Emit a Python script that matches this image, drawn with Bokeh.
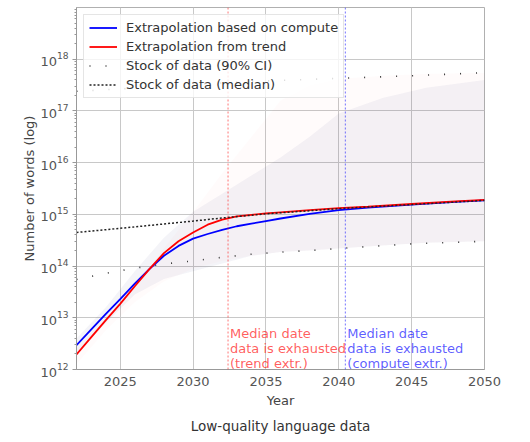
from bokeh.plotting import figure
from bokeh.models import (Range1d, FixedTicker, LogTickFormatter, Legend, LegendItem,
                          Span, Label, Title)
from bokeh.embed import file_html
from bokeh.resources import INLINE

# ---------------- data (log10 of number of words) ----------------
years = [2022, 2023, 2024, 2025, 2026, 2027, 2028, 2029, 2030, 2031, 2032,
         2033, 2034, 2035, 2036, 2038, 2040, 2042, 2045, 2048, 2050]
compute_log = [12.47, 12.77, 13.07, 13.36, 13.66, 13.94, 14.20, 14.39, 14.53, 14.62, 14.70,
               14.77, 14.82, 14.87, 14.92, 15.01, 15.08, 15.13, 15.19, 15.24, 15.27]
trend_log = [12.29, 12.62, 12.95, 13.27, 13.61, 13.94, 14.25, 14.48, 14.65, 14.80, 14.90,
             14.96, 14.99, 15.02, 15.04, 15.08, 15.12, 15.15, 15.20, 15.25, 15.28]

stock_years = [2022, 2025, 2030, 2032, 2035, 2040, 2045, 2050]
stock_median_log = [14.65, 14.73, 14.87, 14.93, 15.01, 15.11, 15.19, 15.27]

ci_years = [2022, 2024, 2026, 2028, 2030, 2032, 2034, 2036, 2038, 2040, 2045, 2050]
stock_low_log = [13.74, 13.86, 13.96, 14.04, 14.10, 14.17, 14.23, 14.27, 14.30, 14.34, 14.43, 14.48]
stock_high_log = [17.38, 17.41, 17.44, 17.47, 17.52, 17.54, 17.57, 17.59, 17.61, 17.63, 17.68, 17.74]

band_years = [2022, 2024, 2026, 2028, 2030, 2032, 2034, 2036, 2038, 2040, 2043, 2046, 2050]
compute_band_low = [12.3, 12.9, 13.45, 13.75, 13.9, 14.05, 14.2, 14.27, 14.3, 14.34, 14.4, 14.45, 14.48]
compute_band_high = [12.6, 13.2, 13.9, 14.55, 15.05, 15.4, 15.75, 16.1, 16.5, 16.95, 17.25, 17.45, 17.6]
trend_band_low = [12.1, 12.75, 13.3, 13.7, 13.95, 14.1, 14.2, 14.27, 14.3, 14.34, 14.4, 14.45, 14.48]
trend_band_high = [12.4, 13.0, 13.6, 14.35, 15.05, 15.8, 16.5, 17.2, 17.5, 17.62, 17.68, 17.72, 17.74]

exhaust_trend = 2032.4
exhaust_compute = 2040.45

x_ticks = [2025, 2030, 2035, 2040, 2045, 2050]
y_tick_exps = [12, 13, 14, 15, 16, 17, 18]


def pw(vals):
    return [10 ** v for v in vals]


FONT = "DejaVu Sans"

p = figure(frame_width=408, frame_height=362, y_axis_type="log",
           x_range=Range1d(2022, 2050), y_range=Range1d(1e12, 1e19),
           output_backend="svg", toolbar_location=None,
           min_border_left=76, min_border_right=20, min_border_top=7, min_border_bottom=0)

p.outline_line_color = "#b0b0b0"
p.background_fill_color = "white"

# bands
p.varea(x=band_years, y1=pw(trend_band_low), y2=pw(trend_band_high),
        fill_color="#ff0000", fill_alpha=0.015)
p.varea(x=band_years, y1=pw(compute_band_low), y2=pw(compute_band_high),
        fill_color="#303075", fill_alpha=0.05)

# exhaustion date lines
p.add_layout(Span(location=exhaust_trend, dimension="height", line_color="#ff0000",
                  line_alpha=0.55, line_dash="2 2", line_width=1))
p.add_layout(Span(location=exhaust_compute, dimension="height", line_color="#0000ff",
                  line_alpha=0.55, line_dash="2 2", line_width=1))

r_ci = p.multi_line(xs=[ci_years, ci_years], ys=[pw(stock_low_log), pw(stock_high_log)],
                    line_color="#333333", line_width=1.6, line_dash="1 15")
r_med = p.line(stock_years, pw(stock_median_log), line_color="#222222", line_width=1.5,
               line_dash="2 2")
r_comp = p.line(years, pw(compute_log), line_color="#0000ff", line_width=1.8)
r_trend = p.line(years, pw(trend_log), line_color="#ff0000", line_width=1.8)
# keep median dotted on top
p.renderers.remove(r_med)
p.renderers.append(r_med)

p.add_layout(Label(x=exhaust_trend, y=1e12, x_offset=2, y_offset=-1,
                   text="Median date\ndata is exhausted\n(trend extr.)",
                   text_color="#ff0000", text_alpha=0.65, text_font=FONT,
                   text_font_size="13px", text_baseline="bottom", text_line_height=1.0))
p.add_layout(Label(x=exhaust_compute, y=1e12, x_offset=2, y_offset=-1,
                   text="Median date\ndata is exhausted\n(compute extr.)",
                   text_color="#0000ff", text_alpha=0.65, text_font=FONT,
                   text_font_size="13px", text_baseline="bottom", text_line_height=1.0))

legend = Legend(items=[
    LegendItem(label="Extrapolation based on compute", renderers=[r_comp]),
    LegendItem(label="Extrapolation from trend", renderers=[r_trend]),
    LegendItem(label="Stock of data (90% CI)", renderers=[r_ci]),
    LegendItem(label="Stock of data (median)", renderers=[r_med]),
], location="top_left")
legend.label_text_font = FONT
legend.label_text_font_size = "13px"
legend.label_text_color = "#333333"
legend.label_height = 15
legend.glyph_height = 15
legend.glyph_width = 28
legend.spacing = 4
legend.padding = 5
legend.margin = 7
legend.label_standoff = 9
legend.border_line_color = "#cccccc"
legend.background_fill_alpha = 0.8
p.add_layout(legend)

# grid
p.xgrid.grid_line_color = "#c8c8c8"
p.ygrid.grid_line_color = "#c8c8c8"
p.xgrid.grid_line_width = 1
p.ygrid.grid_line_width = 1

# axes
p.xaxis.ticker = FixedTicker(ticks=x_ticks)
p.yaxis.ticker = FixedTicker(ticks=[10 ** e for e in y_tick_exps],
                             minor_ticks=[m * 10 ** e for e in range(12, 19) for m in range(2, 10)])
p.yaxis.formatter = LogTickFormatter()
for ax in (p.xaxis, p.yaxis):
    ax.axis_line_color = "#999999"
    ax.major_tick_line_color = "#999999"
    ax.minor_tick_line_color = "#999999"
    ax.major_label_text_font = FONT
    ax.major_label_text_font_size = "13px"
    ax.major_label_text_color = "#555555"
    ax.axis_label_text_font = FONT
    ax.axis_label_text_font_size = "13px"
    ax.axis_label_text_color = "#444444"
    ax.axis_label_text_font_style = "normal"
p.xaxis.major_tick_out = 0
p.xaxis.major_tick_in = 0
p.xaxis.minor_tick_out = 0
p.xaxis.minor_tick_in = 0
p.xaxis.major_label_standoff = 7
p.xaxis.axis_label = "Year"
p.xaxis.axis_label_standoff = 4
p.yaxis.major_tick_out = 4
p.yaxis.major_tick_in = 0
p.yaxis.minor_tick_out = 2
p.yaxis.minor_tick_in = 0
p.yaxis.major_label_standoff = 4
p.yaxis.axis_label = "Number of words (log)"
p.yaxis.axis_label_standoff = 0

p.add_layout(Title(text="Low-quality language data", align="center", text_font=FONT,
                   text_font_size="13.5px", text_font_style="normal",
                   text_color="#333333", standoff=10), "below")

open("out.html", "w").write(file_html(p, INLINE))
